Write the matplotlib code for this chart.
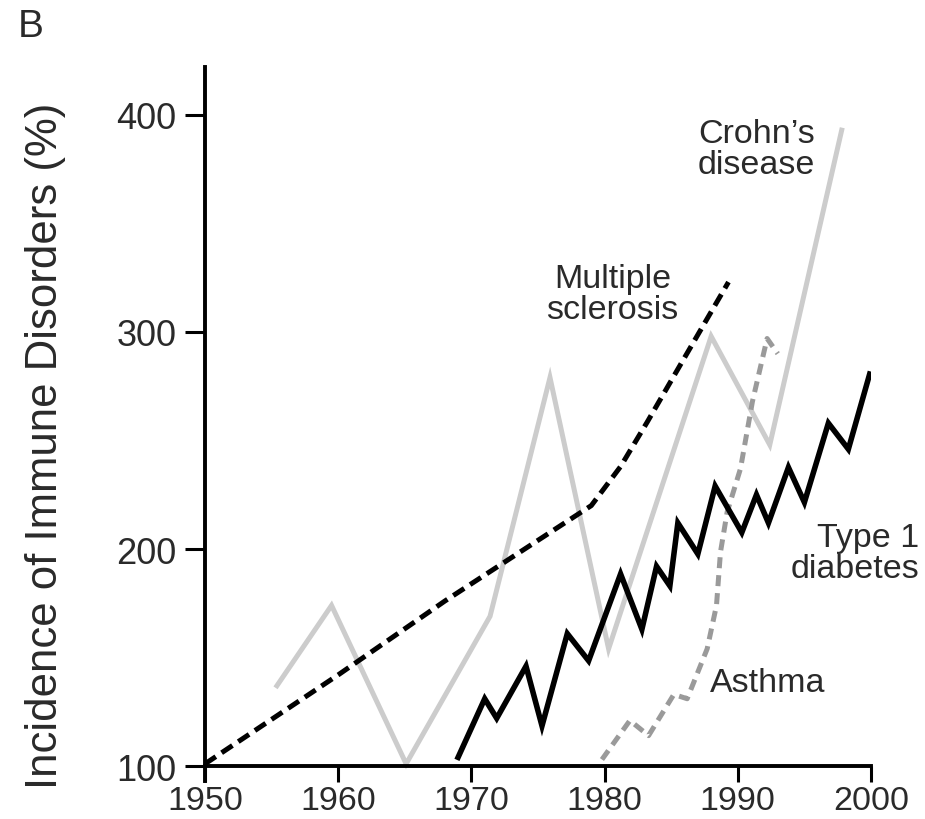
import matplotlib
matplotlib.use("Agg")
import matplotlib.pyplot as plt

# Données
crohn_annees = [1955.4, 1959.5, 1965.1, 1971.4, 1975.9, 1980.3, 1988.0, 1992.4, 1997.8]
crohn_valeurs = [137, 174, 101, 169, 279, 154, 298, 248, 393]

sclerose_annees = [1950, 1960, 1968, 1979, 1981.2, 1983.2, 1985.7, 1989.3]
sclerose_valeurs = [101, 142, 176, 220, 238, 258.5, 285, 323]

diabete_annees = [1969.0, 1971.0, 1971.9, 1974.1, 1975.3, 1977.2, 1978.8, 1981.2, 1982.8,
                  1983.9, 1984.9, 1985.5, 1987.0, 1988.3, 1990.3, 1991.4, 1992.3, 1993.8,
                  1995.0, 1996.8, 1998.3, 1999.9]
diabete_valeurs = [104, 131, 122, 146, 118.5, 161, 148.5, 188.5, 163,
                   192, 183, 212, 197.7, 229, 207.6, 225, 212, 237.6,
                   221.5, 258, 246, 280.6]

asthme_annees = [1979.8, 1981.9, 1983.3, 1985.2, 1986.2, 1987.7, 1988.4, 1988.7, 1989.2,
                 1990.2, 1991.1, 1992.2, 1993.0]
asthme_valeurs = [103, 121, 114, 133, 131, 154, 174, 198.6, 217,
                  237, 268, 297, 290]

x_ticks = [1950, 1960, 1970, 1980, 1990, 2000]
y_ticks = [100, 200, 300, 400]

plt.rcParams['font.family'] = ['Liberation Sans', 'DejaVu Sans']
COULEUR_TEXTE = '#2a2a2a'

fig = plt.figure(figsize=(9.25, 8.2), dpi=100)
ax = fig.add_axes([205 / 925, 1 - 782 / 820, (871 - 205) / 925, (782 - 68) / 820])

# Courbes
ax.plot(crohn_annees, crohn_valeurs, color='#cccccc', lw=3.6, solid_joinstyle='miter', zorder=2)
ax.plot(asthme_annees, asthme_valeurs, color='#9a9a9a', lw=3.6, dashes=(2.2, 1.4),
        dash_capstyle='butt', zorder=3)
ax.plot(sclerose_annees, sclerose_valeurs, color='black', lw=3.6, dashes=(2.6, 1.4),
        dash_capstyle='butt', zorder=4)
ax.plot(diabete_annees, diabete_valeurs, color='black', lw=4.0, solid_joinstyle='miter', zorder=5)

# Axes
ax.set_xlim(1950, 2000)
ax.set_ylim(93.1, 422.1)
ax.spines['top'].set_visible(False)
ax.spines['right'].set_visible(False)
ax.spines['bottom'].set_position(('data', 100))
ax.spines['left'].set_linewidth(2.8)
ax.spines['bottom'].set_linewidth(2.8)
ax.set_xticks(x_ticks)
ax.set_yticks(y_ticks)
ax.tick_params(axis='x', direction='out', length=11.5, width=2.2, pad=2,
               labelsize=24.5, labelcolor=COULEUR_TEXTE)
ax.tick_params(axis='y', direction='out', length=14.5, width=2.2, pad=6,
               labelsize=26, labelcolor=COULEUR_TEXTE)

# Etiquettes des courbes
ax.text(1991.4, 384.3, "Crohn’s\ndisease", ha='center', va='center', fontsize=24.5,
        color=COULEUR_TEXTE, linespacing=1.0)
ax.text(1980.6, 317.5, "Multiple\nsclerosis", ha='center', va='center', fontsize=24.5,
        color=COULEUR_TEXTE, linespacing=1.0)
ax.text(2003.6, 198, "Type 1\ndiabetes", ha='right', va='center', fontsize=24.5,
        color=COULEUR_TEXTE, linespacing=1.0, multialignment='right')
ax.text(1987.9, 138.7, "Asthma", ha='left', va='center', fontsize=24.5, color=COULEUR_TEXTE)

# Titre de l'axe et lettre du panneau
fig.text(46 / 925, 1 - 445.5 / 820, "Incidence of Immune Disorders (%)", rotation=90,
         ha='center', va='center', fontsize=31.5, color=COULEUR_TEXTE)
fig.text(18 / 925, 1 - 9 / 820, "B", ha='left', va='top', fontsize=28, color=COULEUR_TEXTE)

fig.savefig("out.png", dpi=100)
